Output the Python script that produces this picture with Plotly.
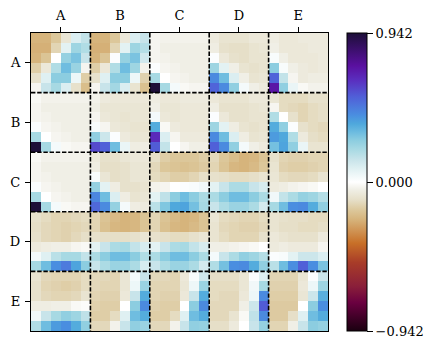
import numpy as np
import plotly.graph_objects as go

labels = ["A", "B", "C", "D", "E"]
vmax = 0.942
block = 6

AA = [[-25,-25,-19,-9,10,16],[-26,-26,-15,8,24,20],[-25,-20,0,26,31,15],[-17,-8,20,33,25,-3],[-11,9,28,28,5,-17],[-3,15,22,10,-11,-22]]
AB = [[-25,-25,-19,-8,10,15],[-26,-26,-15,8,24,19],[-25,-20,1,26,31,13],[-17,-8,20,33,24,-4],[-11,9,28,28,5,-16],[-3,15,23,10,-10,-21]]
AC = [[-3,-4,-4,-4,-4,-4],[-3,-5,-5,-5,-5,-5],[-3,-4,-5,-5,-5,-5],[1,-3,-4,-5,-5,-5],[22,0,-3,-4,-5,-5],[100,22,3,-2,-3,-3]]
AD = [[-7,-10,-10,-10,-8,-8],[-6,-11,-12,-12,-10,-9],[1,-8,-11,-12,-10,-10],[24,8,-5,-10,-11,-10],[46,33,10,-5,-10,-9],[56,46,27,3,-5,-7]]
AE = [[-6,-8,-8,-7,-7,-7],[-5,-8,-8,-8,-7,-7],[2,-5,-8,-8,-8,-7],[28,2,-5,-7,-8,-7],[56,16,-3,-7,-6,-6],[76,27,6,-2,-4,-4]]

BA = [[-2,-4,-4,-4,-4,-4],[-3,-5,-5,-5,-5,-5],[-3,-4,-5,-5,-5,-5],[1,-3,-4,-5,-5,-5],[22,0,-3,-4,-5,-5],[100,22,3,-2,-3,-3]]
BB = [[-4,-7,-8,-8,-8,-8],[-5,-9,-9,-9,-9,-9],[-3,-8,-9,-10,-9,-9],[2,-3,-8,-9,-10,-10],[27,14,1,-7,-9,-9],[62,57,33,6,-6,-6]]
BC = [[-6,-8,-8,-7,-7,-7],[-5,-9,-9,-8,-8,-8],[3,-8,-9,-8,-8,-8],[38,-2,-7,-8,-8,-8],[70,10,-3,-7,-7,-7],[58,16,0,-3,-5,-5]]
BD = [[-8,-10,-10,-10,-8,-8],[-6,-11,-11,-11,-10,-9],[1,-8,-11,-11,-10,-10],[24,8,-6,-10,-11,-10],[46,33,10,-6,-10,-9],[57,46,27,3,-5,-7]]
BE = [[-9,-13,-13,-13,-11,-11],[-3,-13,-14,-15,-13,-12],[20,0,-11,-15,-13,-12],[38,27,1,-11,-13,-14],[42,39,20,-7,-12,-13],[32,40,27,6,-10,-10]]

CA = [[-2,-4,-4,-4,-4,-4],[-3,-5,-5,-5,-5,-5],[-3,-4,-5,-5,-5,-5],[1,-3,-4,-5,-5,-5],[22,0,-3,-4,-5,-5],[100,22,3,-2,-3,-3]]
CB = [[-7,-11,-11,-9,-8,-8],[-6,-12,-12,-11,-9,-9],[2,-9,-12,-11,-9,-9],[26,8,-6,-11,-11,-10],[47,33,10,-6,-10,-9],[55,46,26,3,-6,-7]]
CC = [[-12,-17,-19,-19,-19,-17],[-14,-19,-20,-21,-20,-18],[-13,-15,-17,-17,-15,-12],[-4,-3,0,1,2,4],[8,17,28,33,28,21],[18,30,39,40,32,22]]
CD = [[-14,-19,-22,-25,-24,-20],[-15,-20,-24,-25,-23,-19],[-11,-12,-13,-13,-12,-10],[8,15,21,21,15,11],[21,28,33,33,28,21],[15,21,25,25,21,12]]
CE = [[-11,-15,-16,-16,-15,-15],[-10,-16,-17,-17,-16,-15],[-9,-13,-14,-14,-13,-10],[-7,-6,-4,-3,-2,0],[4,16,21,26,24,19],[22,33,45,46,38,27]]

DA = [[-11,-13,-15,-15,-14,-13],[-12,-14,-15,-16,-15,-14],[-11,-14,-15,-16,-14,-12],[-7,-6,-5,-5,-3,-2],[3,9,18,22,22,16],[22,33,45,50,40,28]]
DB = [[-15,-20,-23,-25,-24,-20],[-15,-21,-24,-25,-24,-20],[-11,-12,-12,-12,-11,-9],[8,15,21,22,16,11],[21,28,33,33,28,20],[15,21,25,25,21,11]]
DC = [[-15,-20,-23,-25,-24,-20],[-15,-21,-24,-25,-23,-20],[-11,-12,-13,-13,-11,-9],[8,15,21,22,16,11],[21,28,33,33,28,21],[15,21,25,25,21,12]]
DD = [[-9,-13,-14,-15,-15,-13],[-10,-14,-15,-16,-16,-14],[-10,-13,-15,-15,-15,-11],[-5,-5,-4,-3,-2,0],[3,15,21,27,24,19],[20,32,45,46,38,27]]
DE = [[-10,-11,-12,-12,-13,-13],[-10,-12,-12,-13,-13,-12],[-8,-10,-11,-11,-11,-7],[-7,-6,-7,-7,-7,-3],[1,2,8,14,14,10],[18,33,45,57,45,31]]

EA = [[-10,-14,-15,-15,-15,-13],[-11,-15,-16,-17,-16,-13],[-11,-14,-15,-15,-14,-10],[-6,-6,-5,-5,-2,-1],[4,15,22,27,24,17],[20,33,42,45,38,27]]
EB = [[-14,-14,-15,-9,3,15],[-14,-15,-15,-9,5,25],[-15,-16,-16,-8,15,38],[-16,-17,-17,0,28,46],[-17,-17,-13,9,33,38],[-14,-14,-4,15,27,25]]
EC = [[-14,-14,-15,-8,2,13],[-15,-15,-15,-9,5,25],[-15,-16,-16,-8,15,38],[-16,-17,-17,0,28,46],[-17,-17,-13,9,33,38],[-14,-14,-4,15,27,26]]
ED = [[-12,-12,-12,-9,1,9],[-13,-13,-13,-9,4,22],[-13,-14,-14,-8,5,46],[-14,-14,-14,-5,14,58],[-14,-14,-10,-2,17,46],[-12,-12,-7,0,15,26]]
EE = [[-15,-15,-15,-9,1,14],[-16,-16,-16,-8,5,24],[-17,-17,-17,-9,14,37],[-18,-18,-18,0,28,45],[-18,-18,-12,9,33,38],[-15,-15,-5,15,28,26]]

percent = np.vstack([
    np.hstack([AA, AB, AC, AD, AE]),
    np.hstack([BA, BB, BC, BD, BE]),
    np.hstack([CA, CB, CC, CD, CE]),
    np.hstack([DA, DB, DC, DD, DE]),
    np.hstack([EA, EB, EC, ED, EE]),
])
z = (percent / 100 * vmax).tolist()
n = len(z)

stops = [
    (-1.00, "#1a0010"), (-0.81, "#6a0040"), (-0.70, "#8a1f3a"), (-0.54, "#a83c28"),
    (-0.41, "#c87028"), (-0.25, "#d6b47c"), (-0.19, "#dcc79a"), (-0.12, "#e6dfc8"),
    (-0.05, "#f0efe6"), (0.00, "#ffffff"), (0.09, "#dff0f2"), (0.15, "#c8e4ea"),
    (0.21, "#acdbe4"), (0.28, "#8ccde0"), (0.33, "#6fbde0"), (0.39, "#4fa8dc"),
    (0.45, "#4a8ee0"), (0.57, "#5060d8"), (0.68, "#5a30c0"), (0.78, "#5a10a0"),
    (1.00, "#1d0f38"),
]
colorscale = [[(f + 1) / 2, c] for f, c in stops]

FONT = "DejaVu Serif"
PLOT_L, PLOT_R, PLOT_T, PLOT_B = 31, 328, 33, 331
W, H = 436, 349

fig = go.Figure(go.Heatmap(
    z=z, x=list(range(n)), y=list(range(n)),
    colorscale=colorscale, zmin=-vmax, zmax=vmax, zsmooth=False,
    colorbar=dict(
        x=(347 - PLOT_L) / (PLOT_R - PLOT_L), xanchor="left", xpad=0,
        y=0.5, yanchor="middle", ypad=0, len=1, lenmode="fraction",
        thickness=20, thicknessmode="pixels",
        outlinecolor="black", outlinewidth=1,
        tickmode="array", tickvals=[-vmax, 0, vmax],
        ticktext=["\u22120.942", "0.000", "0.942"],
        ticks="outside", ticklen=6, tickwidth=1, tickcolor="black",
        tickfont=dict(family=FONT, size=13, color="black"),
    ),
))

centres = [block * (i + 0.5) - 0.5 for i in range(len(labels))]
axis = dict(
    tickmode="array", tickvals=centres, ticktext=labels, ticks="outside",
    ticklen=5, tickwidth=1, tickcolor="black", showgrid=False, zeroline=False,
    showline=True, linecolor="black", linewidth=1.2, mirror=True, ticklabelstandoff=2,
    automargin=False,
    tickfont=dict(family=FONT, size=13, color="black"),
)
fig.update_xaxes(side="top", range=[-0.5, n - 0.5], **axis)
fig.update_yaxes(range=[n - 0.5, -0.5], **axis)

for i in range(1, len(labels)):
    edge = block * i - 0.5
    for kw in (dict(x0=edge, x1=edge, y0=-0.5, y1=n - 0.5),
               dict(x0=-0.5, x1=n - 0.5, y0=edge, y1=edge)):
        fig.add_shape(type="line", xref="x", yref="y", layer="above",
                      line=dict(color="black", width=1.6, dash="4.4px,1.8px"), **kw)

fig.update_layout(
    width=W, height=H, autosize=False,
    margin=dict(l=PLOT_L, r=W - PLOT_R, t=PLOT_T, b=H - PLOT_B, pad=0, autoexpand=False),
    paper_bgcolor="white", plot_bgcolor="white",
    font=dict(family=FONT, size=13, color="black"),
)

fig.write_html("out.html", post_script="document.body.style.margin='0';document.documentElement.style.overflow='hidden';", config={"displayModeBar": False})
